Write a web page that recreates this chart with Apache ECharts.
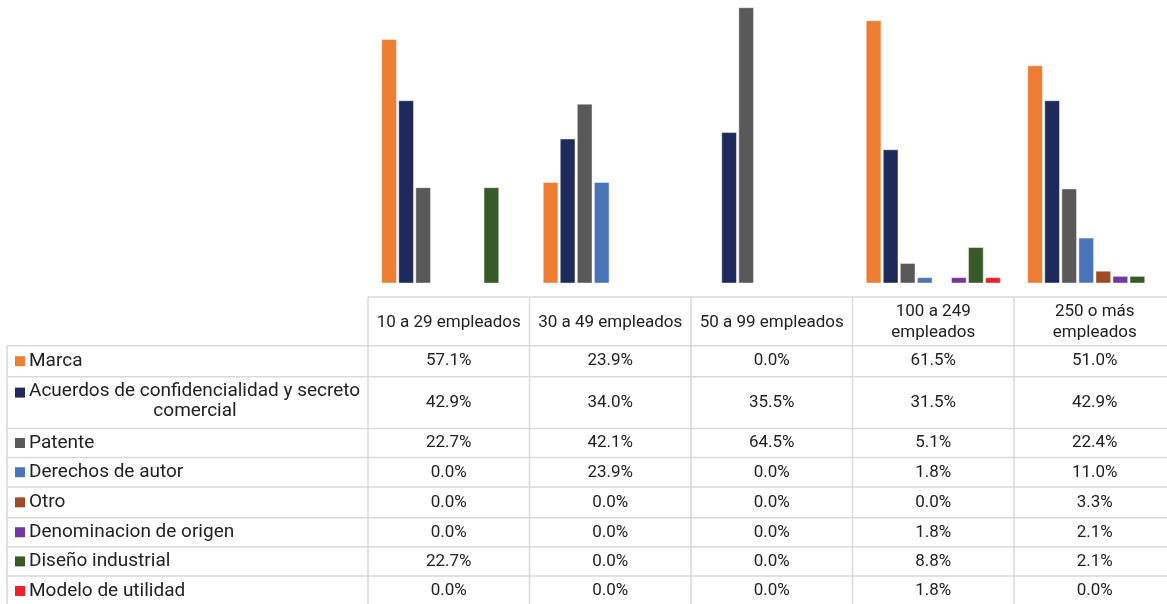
<!DOCTYPE html>
<html>
<head>
<meta charset="utf-8">
<script src="https://cdn.jsdelivr.net/npm/echarts@6/dist/echarts.min.js"></script>
<style>
html,body{margin:0;padding:0;background:#fff;}
#chart{width:1167px;height:604px;}
</style>
</head>
<body>
<div id="chart"></div>
<script>
// ---- data ----
const categories = ['10 a 29 empleados', '30 a 49 empleados', '50 a 99 empleados', '100 a 249\nempleados', '250 o más\nempleados'];
const seriesNames = ['Marca', 'Acuerdos de confidencialidad y secreto comercial', 'Patente', 'Derechos de autor', 'Otro', 'Denominacion de origen', 'Diseño industrial', 'Modelo de utilidad'];
const marca        = [57.1, 23.9, 0.0, 61.5, 51.0];
const acuerdos     = [42.9, 34.0, 35.5, 31.5, 42.9];
const patente      = [22.7, 42.1, 64.5, 5.1, 22.4];
const derechos     = [0.0, 23.9, 0.0, 1.8, 11.0];
const otro         = [0.0, 0.0, 0.0, 0.0, 3.3];
const denominacion = [0.0, 0.0, 0.0, 1.8, 2.1];
const diseno       = [22.7, 0.0, 0.0, 8.8, 2.1];
const modelo       = [0.0, 0.0, 0.0, 1.8, 0.0];
const seriesData = [marca, acuerdos, patente, derechos, otro, denominacion, diseno, modelo];
const colors = ['#ED7D31', '#1F2A5C', '#595959', '#4A74B8', '#9E4A22', '#7038A0', '#375A28', '#EE2127'];

// ---- layout ----
const W = 1167;
const gridLeft = 368, colW = 161.5, plotBottom = 283;
const headerTop = 297;
const rowLines = [345.7, 376.7, 428.5, 457.5, 487, 517.7, 546.8, 576, 606];
const tableLeft = 7;
const lineColor = '#D9D9D9';
const font = '17px Roboto';
const labelFont = '19px Roboto';
const txtColor = '#222';

const graphics = [];
function hline(y, x1, x2) {
  graphics.push({type:'line', shape:{x1:x1, y1:y, x2:x2, y2:y}, style:{stroke:lineColor, lineWidth:1.5}, silent:true});
}
function vline(x, y1, y2) {
  graphics.push({type:'line', shape:{x1:x, y1:y1, x2:x, y2:y2}, style:{stroke:lineColor, lineWidth:1.5}, silent:true});
}
function text(t, x, y, align, lh, f) {
  graphics.push({type:'text', x:x, y:y, silent:true,
    style:{text:t, font:f || font, fill:txtColor, align:align, textAlign:align, verticalAlign:'middle', textVerticalAlign:'middle', lineHeight: lh || 20}});
}
hline(headerTop, gridLeft, W);
rowLines.forEach(y => hline(y, tableLeft, W));
vline(tableLeft, rowLines[0], 606);
for (let i = 0; i < categories.length; i++) vline(gridLeft + i * colW, headerTop, 606);

// header
categories.forEach((c, i) => {
  text(c, gridLeft + colW * (i + 0.5), (headerTop + rowLines[0]) / 2 + 1, 'center', 21);
});
// rows
seriesNames.forEach((name, r) => {
  const yMid = (rowLines[r] + rowLines[r + 1]) / 2;
  if (r === 1) {
    graphics.push({type:'rect', shape:{x:15, y:yMid - 15, width:10, height:10}, style:{fill:colors[r]}, silent:true});
    text('Acuerdos de confidencialidad y secreto', 29, yMid - 11, 'left', 20, labelFont);
    text('comercial', 195, yMid + 9, 'center', 20, labelFont);
  } else {
    graphics.push({type:'rect', shape:{x:15, y:yMid - 5, width:10, height:10}, style:{fill:colors[r]}, silent:true});
    text(name, 29, yMid, 'left', 20, labelFont);
  }
  seriesData[r].forEach((v, i) => {
    text(v.toFixed(1) + '%', gridLeft + colW * (i + 0.5), yMid, 'center');
  });
});

const chart = echarts.init(document.getElementById('chart'), null, {renderer:'canvas'});
chart.setOption({
  backgroundColor: '#fff',
  animation: false,
  grid: {left: gridLeft, width: colW * categories.length, top: 0, height: plotBottom, containLabel: false, outerBoundsMode: 'none'},
  xAxis: {type:'category', data: categories, show: false},
  yAxis: {type:'value', min: 0.47, max: 66.2, show: false},
  series: seriesNames.map((n, i) => ({
    name: n, type: 'bar', data: seriesData[i], barWidth: 15.5, barGap: '10%',
    clip: true,
    itemStyle: {color: colors[i], borderColor: 'rgba(255,255,255,0.55)', borderWidth: 0.8}
  })),
  graphic: graphics
});
</script>
</body>
</html>
